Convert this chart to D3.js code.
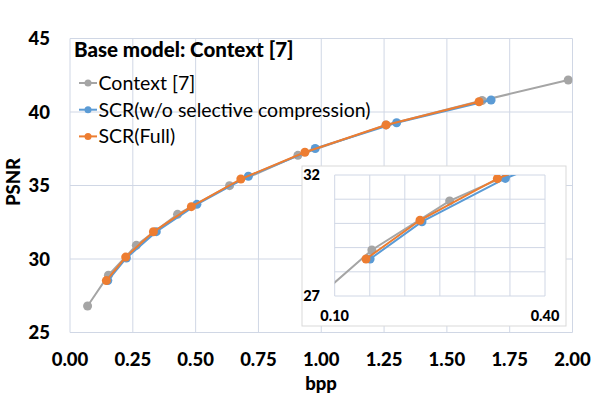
<!DOCTYPE html>
<meta charset="utf-8">
<script src="https://d3js.org/d3.v7.min.js"></script>
<style>
  body { margin: 0; background: #fff; }
  text { font-family: Lato, "Open Sans", sans-serif; }
</style>
<div id="my_dataviz"></div>
<script>

// data
var ctxBpp  = [0.07, 0.153, 0.264, 0.428, 0.635, 0.907, 1.258, 1.64, 1.983];
var ctxPsnr = [26.8, 28.9, 30.93, 33.04, 34.99, 37.05, 39.12, 40.78, 42.18];
var woBpp   = [0.1505, 0.2245, 0.3434, 0.505, 0.71, 0.976, 1.30, 1.676];
var woPsnr  = [28.53, 30.07, 31.86, 33.72, 35.63, 37.52, 39.27, 40.82];
var fullBpp  = [0.1447, 0.2217, 0.332, 0.483, 0.68, 0.935, 1.258, 1.628];
var fullPsnr = [28.53, 30.13, 31.85, 33.56, 35.44, 37.26, 39.12, 40.7];

var seriesNames = ["Context [7]", "SCR(w/o selective compression)", "SCR(Full)"];
var xTicks = [0, 0.25, 0.5, 0.75, 1, 1.25, 1.5, 1.75, 2];
var yTicks = [25, 30, 35, 40, 45];
var insetXTicks = [0.10, 0.40];
var insetYTicks = [27, 32];

var colors = ["#a5a5a5", "#5b9bd5", "#ed7d31"];
var gridColor = "#d0d7e5";

var series = [
  {name: seriesNames[0], color: colors[0], pts: ctxBpp.map(function(b, i) { return [b, ctxPsnr[i]]; })},
  {name: seriesNames[1], color: colors[1], pts: woBpp.map(function(b, i) { return [b, woPsnr[i]]; })},
  {name: seriesNames[2], color: colors[2], pts: fullBpp.map(function(b, i) { return [b, fullPsnr[i]]; })}
];

var W = 598, H = 399;
var svg = d3.select("#my_dataviz").append("svg")
  .attr("width", W).attr("height", H);

// main plot area
var x = d3.scaleLinear().domain([0, 2]).range([70, 572.5]);
var y = d3.scaleLinear().domain([25, 45]).range([332.5, 38.5]);

svg.append("defs").append("clipPath").attr("id", "mainClip")
  .append("rect").attr("x", 70).attr("y", 38.5).attr("width", 502.5).attr("height", 294);

// gridlines
svg.append("g").selectAll("line.vx").data(xTicks).enter().append("line")
  .attr("x1", function(d) { return x(d); }).attr("x2", function(d) { return x(d); })
  .attr("y1", y(25)).attr("y2", y(45))
  .attr("stroke", gridColor).attr("stroke-width", 1);
svg.append("g").selectAll("line.hy").data(yTicks).enter().append("line")
  .attr("y1", function(d) { return y(d); }).attr("y2", function(d) { return y(d); })
  .attr("x1", x(0)).attr("x2", x(2))
  .attr("stroke", gridColor).attr("stroke-width", 1);

// tick labels
svg.append("g").selectAll("text").data(xTicks).enter().append("text")
  .attr("x", function(d) { return x(d); }).attr("y", 366)
  .attr("text-anchor", "middle")
  .attr("font-size", 18.5).attr("font-weight", "900")
  .text(function(d) { return d3.format(".2f")(d); });
svg.append("g").selectAll("text").data(yTicks).enter().append("text")
  .attr("x", 50).attr("y", function(d) { return y(d); })
  .attr("dy", "0.36em")
  .attr("text-anchor", "end")
  .attr("font-size", 18.5).attr("font-weight", "900")
  .text(function(d) { return d; });

// axis titles
svg.append("text").attr("x", 321).attr("y", 390)
  .attr("text-anchor", "middle").attr("font-size", 18.5).attr("font-weight", "900")
  .text("bpp");
svg.append("text").attr("transform", "translate(20,182) rotate(-90)")
  .attr("text-anchor", "middle").attr("font-size", 18.5).attr("font-weight", "900")
  .text("PSNR");

function drawSeries(g, xs, ys, clipId, r) {
  var line = d3.line().x(function(d) { return xs(d[0]); }).y(function(d) { return ys(d[1]); });
  var layer = g.append("g").attr("clip-path", "url(#" + clipId + ")");
  series.forEach(function(s) {
    layer.append("path").datum(s.pts)
      .attr("d", line).attr("fill", "none")
      .attr("stroke", s.color).attr("stroke-width", 2);
    layer.selectAll(null).data(s.pts).enter().append("circle")
      .attr("cx", function(d) { return xs(d[0]); })
      .attr("cy", function(d) { return ys(d[1]); })
      .attr("r", r).attr("fill", s.color);
  });
}

drawSeries(svg, x, y, "mainClip", 4.5);

// title + legend
svg.append("text").attr("x", 74).attr("y", 57)
  .attr("font-size", 20.5).attr("font-weight", "900")
  .text("Base model: Context [7]");

var legend = svg.append("g").selectAll("g").data(series).enter().append("g")
  .attr("transform", function(d, i) { return "translate(0," + (83 + i * 26.7) + ")"; });
legend.append("line").attr("x1", 79).attr("x2", 97).attr("y1", 0).attr("y2", 0)
  .attr("stroke", function(d) { return d.color; }).attr("stroke-width", 2);
legend.append("circle").attr("cx", 88).attr("cy", 0).attr("r", 3.5)
  .attr("fill", function(d) { return d.color; });
legend.append("text").attr("x", 98.5).attr("y", 0).attr("dy", "0.36em")
  .attr("font-size", 19.5)
  .text(function(d) { return d.name; });

// inset
var inset = svg.append("g");
inset.append("rect").attr("x", 302).attr("y", 166).attr("width", 264).attr("height", 160)
  .attr("fill", "#fff").attr("stroke", "#d9d9d9").attr("stroke-width", 1);

var ix = d3.scaleLinear().domain([0.10, 0.40]).range([334.7, 545]);
var iy = d3.scaleLinear().domain([27, 32]).range([296, 175]);

svg.select("defs").append("clipPath").attr("id", "insetClip")
  .append("rect").attr("x", ix(0.10)).attr("y", iy(32))
  .attr("width", ix(0.40) - ix(0.10)).attr("height", iy(27) - iy(32));

inset.append("g").selectAll("line").data(d3.range(0.10, 0.4001, 0.05)).enter().append("line")
  .attr("x1", function(d) { return ix(d); }).attr("x2", function(d) { return ix(d); })
  .attr("y1", iy(27)).attr("y2", iy(32))
  .attr("stroke", gridColor).attr("stroke-width", 1);
inset.append("g").selectAll("line").data(d3.range(27, 32.001, 1)).enter().append("line")
  .attr("y1", function(d) { return iy(d); }).attr("y2", function(d) { return iy(d); })
  .attr("x1", ix(0.10)).attr("x2", ix(0.40))
  .attr("stroke", gridColor).attr("stroke-width", 1);

drawSeries(inset, ix, iy, "insetClip", 4.5);

inset.append("g").selectAll("text").data(insetXTicks).enter().append("text")
  .attr("x", function(d) { return ix(d); }).attr("y", 321)
  .attr("text-anchor", "middle").attr("font-size", 14.5).attr("font-weight", "900")
  .text(function(d) { return d3.format(".2f")(d); });
inset.append("g").selectAll("text").data(insetYTicks).enter().append("text")
  .attr("x", 320).attr("y", function(d) { return iy(d); }).attr("dy", "0.36em")
  .attr("text-anchor", "end").attr("font-size", 14.5).attr("font-weight", "900")
  .text(function(d) { return d; });

</script>
